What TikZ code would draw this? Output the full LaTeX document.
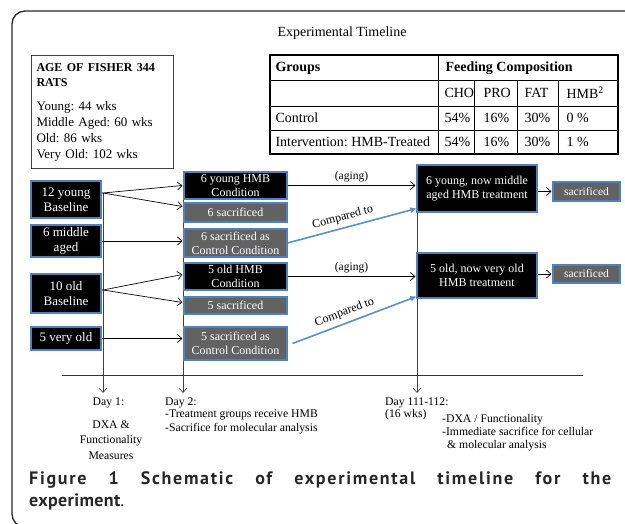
\documentclass[tikz,border=0pt]{standalone}
\usepackage{fontspec}
\setmainfont{Liberation Serif}
\newfontfamily\capfont{PT Sans}
\usetikzlibrary{arrows.meta,shadows}
\frenchspacing

\definecolor{boxedge}{RGB}{79,129,189}
\definecolor{boxgrey}{RGB}{98,98,98}
\definecolor{linkblue}{RGB}{88,143,205}

\tikzset{
  ratbox/.style={draw=boxedge, line width=1.1pt, fill=black, text=white, align=center, inner sep=1pt,
    drop shadow={shadow xshift=1.2pt, shadow yshift=-1.2pt, fill=black!45}},
  deadbox/.style={ratbox, fill=boxgrey},
  link/.style={-{Straight Barb[length=4.5pt,width=8pt]}, line width=0.7pt},
  dayline/.style={link, draw=black!75},
  compare/.style={-{Triangle[length=6pt,width=5pt]}, draw=linkblue, line width=1.6pt},
  tabtext/.style={anchor=west, font=\fontsize{14}{16}\selectfont},
  notetext/.style={font=\fontsize{11.7}{14}\selectfont, inner sep=0pt},
}

\begin{document}
\begin{tikzpicture}[x=1pt, y=-1pt]
  \useasboundingbox (0,0) rectangle (625,524);
  \clip (0,0) rectangle (625,524);

  % frame
  \draw[line width=1.3pt, black!85, rounded corners=13pt] (640,11) -- (12,11) -- (12,527) -- (640,527);

  % title and feeding table
  \node[font=\fontsize{14}{16}\selectfont] (title) at (342,33) {Experimental Timeline};
  \draw[line width=1.5pt] (270,55) rectangle (618,154);
  \foreach \ry in {80, 106, 130} {
    \draw[line width=0.8pt] (270,\ry) -- (618,\ry);
  }
  \draw[line width=0.8pt] (438,55) -- (438,154);
  \foreach \cx in {474, 517, 558} {
    \draw[line width=0.8pt] (\cx,80) -- (\cx,154);
  }
  \node[tabtext, font=\fontsize{14}{16}\selectfont\bfseries] (groups) at (272,68.5) {Groups};
  \node[tabtext, font=\fontsize{14}{16}\selectfont\bfseries] (feeding) at (442,68.5) {Feeding Composition};
  \node[tabtext] (ctl) at (272,118) {Control};
  \node[tabtext] (hmbt) at (272,142) {Intervention: HMB-Treated};
  \foreach \cx/\hd/\va/\vb [count=\i] in {441/CHO/54\%/54\%, 480/PRO/16\%/16\%, 521/FAT/30\%/30\%, 563/HMB\textsuperscript{2}/0 \%/1 \%} {
    \node[tabtext] (hd-\i) at (\cx,93) {\hd};
    \node[tabtext] (va-\i) at (\cx,118) {\va};
    \node[tabtext] (vb-\i) at (\cx,142) {\vb};
  }

  % ages
  \node[draw=black!75, line width=1pt, anchor=north west, minimum height=113pt, text width=132pt,
        inner xsep=5pt, align=left, font=\fontsize{13}{16}\selectfont] (agebox) at (31,55)
    {{\fontsize{12}{15}\selectfont\bfseries AGE OF FISHER 344}\\[-1pt]
     {\fontsize{12}{15}\selectfont\bfseries RATS}\\[8pt]
     Young: 44 wks\\Middle Aged: 60 wks\\Old: 86 wks\\Very Old: 102 wks};

  % day lines
  \draw[dayline] (103,193) -- (103,393);
  \draw[dayline] (183,172) -- (183,393);
  \draw[dayline] (417,165) -- (417,393);
  \draw[line width=0.8pt, black!80] (62,375) -- (583,375);

  % starting groups
  \foreach \nm/\yy/\hh/\txt in {young/199.5/37/{12 young\\Baseline}, middle/241/32/{6 middle\\aged},
      old/293.5/39/{10 old\\Baseline}, veryold/338.5/23/{5 very old}} {
    \node[ratbox, minimum width=70pt, minimum height=\hh pt, font=\fontsize{13}{15}\selectfont] (\nm) at (66,\yy) {\txt};
  }

  % day 2 groups
  \foreach \nm/\st/\yy/\hh/\txt in {yhmb/ratbox/185.5/27/{6 young HMB\\Condition}, ysac/deadbox/212.5/19/{6 sacrificed},
      yctl/deadbox/243/28/{6 sacrificed as\\Control Condition}, ohmb/ratbox/276.5/27/{5 old HMB\\Condition},
      osac/deadbox/305.5/17/{5 sacrificed}, octl/deadbox/343.5/33/{5 sacrificed as\\Control Condition}} {
    \node[\st, minimum width=103pt, minimum height=\hh pt, font=\fontsize{12}{14}\selectfont] (\nm) at (235.5,\yy) {\txt};
  }

  % end groups
  \node[ratbox, minimum width=120pt, minimum height=47pt, font=\fontsize{12}{14}\selectfont] (ynow) at (477,188.5) {6 young, now middle\\aged HMB treatment};
  \node[ratbox, minimum width=120pt, minimum height=45pt, font=\fontsize{12}{14}\selectfont] (onow) at (477,275.5) {5 old, now very old\\HMB treatment};
  \node[deadbox, minimum width=67pt, minimum height=19pt, font=\fontsize{11.5}{13}\selectfont] (ysacr) at (586.5,191.5) {sacrificed};
  \node[deadbox, minimum width=67pt, minimum height=18pt, font=\fontsize{11.5}{13}\selectfont] (osacr) at (586.5,274) {sacrificed};

  % arrows
  \coordinate (yfork) at (103,193);
  \coordinate (ofork) at (103,290);
  \draw[link] (young.east |- yfork) -- (yfork) -- ([xshift=-1pt]yhmb.west);
  \draw[link] (yfork) -- ([xshift=-1pt, yshift=6pt]ysac.west);
  \draw[link] (middle.east) -- ([xshift=-1pt]yctl.west |- middle.east);
  \draw[link] (old.east |- ofork) -- (ofork) -- ([xshift=-1pt, yshift=2pt]ohmb.west);
  \draw[link] (ofork) -- ([xshift=-1pt, yshift=3pt]osac.west);
  \draw[link] (veryold.east) -- ([xshift=-1pt]octl.west |- veryold.east);
  \draw[link] (yhmb.east) -- node[above, font=\fontsize{11.5}{13}\selectfont] (yaging) {(aging)} ([xshift=-1pt]ynow.west |- yhmb.east);
  \draw[link] (ohmb.east) -- node[above, font=\fontsize{11.5}{13}\selectfont] (oaging) {(aging)} ([xshift=-1pt]onow.west |- ohmb.east);
  \draw[link] (ynow.east |- ysacr.west) -- ([xshift=-1pt]ysacr.west);
  \draw[link] (onow.east |- osacr.west) -- ([xshift=-1pt]osacr.west);
  \draw[compare] (yctl.east) -- node[pos=0.45, above=1pt, sloped, font=\fontsize{12}{14}\selectfont] (ycomp) {Compared to} ([yshift=4pt]ynow.south west);
  \draw[compare] ([xshift=5pt]octl.east) -- node[pos=0.45, above=1pt, sloped, font=\fontsize{12}{14}\selectfont] (ocomp) {Compared to} ([yshift=2pt]onow.south west);

  % day notes
  \node[notetext] (day1) at (108.5,403) {Day 1:};
  \node[notetext, align=center, font=\fontsize{11.7}{15.5}\selectfont] (meas1) at (111,440) {DXA \&\\Functionality\\Measures};
  \node[notetext, anchor=west] (day2) at (165,403) {Day 2:};
  \node[notetext, anchor=north west, align=left] (meas2) at (165,410) {-Treatment groups receive HMB\\-Sacrifice for molecular analysis};
  \node[notetext, anchor=west] (day3) at (385,403) {Day 111-112:};
  \node[notetext, anchor=west] (wks3) at (385,415) {(16 wks)};
  \node[notetext, anchor=north west, align=left, font=\fontsize{11.7}{13}\selectfont] (meas3) at (442,414)
    {-DXA / Functionality\\-Immediate sacrifice for cellular\\\hspace*{5pt}\& molecular analysis};

  % caption
  \node[anchor=north west, inner sep=0pt, text width=582pt, align=justify, text=black!85,
        font=\capfont\bfseries\fontsize{18}{22}\selectfont] (caption) at (29,471)
    {{\addfontfeature{LetterSpace=9.5}Figure 1 Schematic of experimental timeline for the}\linebreak
     {\addfontfeature{LetterSpace=2}experiment}{\mdseries.}};
\end{tikzpicture}
\end{document}
